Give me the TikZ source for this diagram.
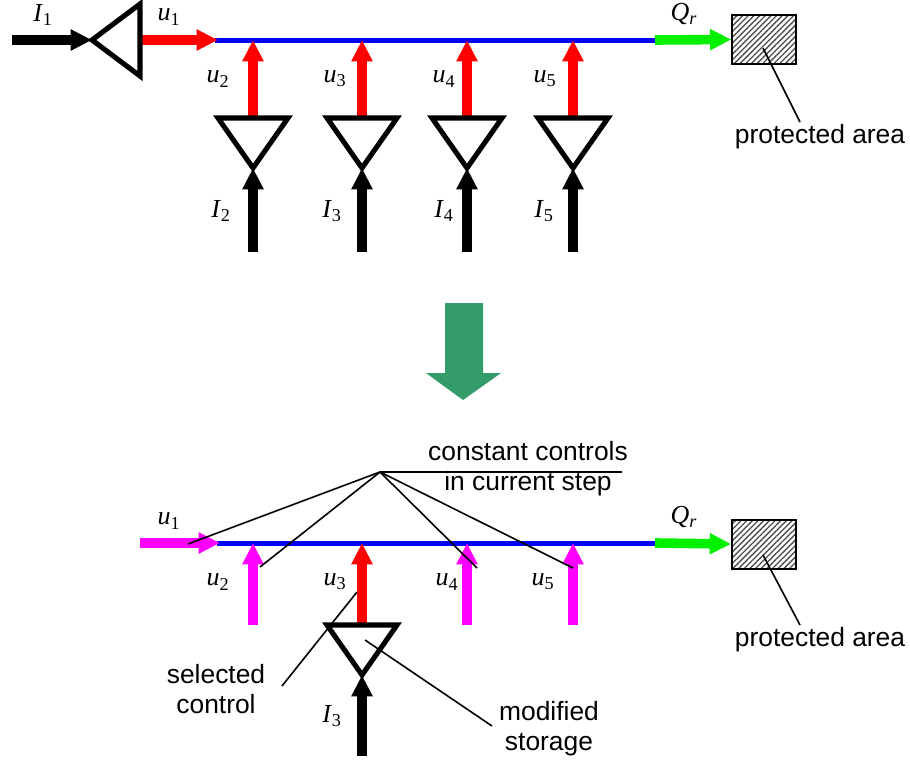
\documentclass[tikz,border=0pt]{standalone}
\usepackage{fontspec}
\setmainfont{Liberation Sans}
\newfontfamily\tnrfont{Liberation Serif}
\usetikzlibrary{arrows.meta,patterns.meta}

\definecolor{busblue}{RGB}{0,0,255}
\definecolor{ctrlred}{RGB}{255,0,0}
\definecolor{outgreen}{RGB}{0,240,0}
\definecolor{constmag}{RGB}{255,0,255}
\definecolor{stepgreen}{RGB}{52,155,106}

\begin{document}
\begin{tikzpicture}[x=0.75pt,y=0.75pt,yscale=-1,xscale=1,
  flow/.style={line width=7.2pt,-{Triangle[length=16pt,width=15pt]}},
  bus/.style={draw=busblue,line width=3.75pt},
  amp/.style={draw=black,line width=3.8pt,line join=miter,fill=white},
  area/.style={draw=black,line width=1.5pt,minimum width=48pt,minimum height=36.75pt,inner sep=0pt,
    pattern={Lines[angle=45,distance=3pt,line width=1pt]},pattern color=black!70},
  lead/.style={draw=black,line width=1.2pt},
  txt/.style={font=\fontsize{19.8}{22.5}\selectfont,align=center,inner sep=0pt},
  var/.style={font=\tnrfont\fontsize{19.5}{22}\selectfont,inner sep=0pt}]
\useasboundingbox (0,0) rectangle (910,764);

%% ---------------- before the step ----------------
% junctions on the line
\coordinate (i1) at (12,40);
\coordinate (a1) at (92,40);
\coordinate (o1) at (140,40);
\coordinate (j1) at (218,40);
\coordinate (j2) at (253,40);
\coordinate (j3) at (362,40);
\coordinate (j4) at (467,40);
\coordinate (j5) at (573,40);
\coordinate (q1) at (655,40);
% storages below the line
\coordinate (s2) at (253,118);
\coordinate (s3) at (362,118);
\coordinate (s4) at (467,118);
\coordinate (s5) at (573,118);
\coordinate (t2) at (253,168);
\coordinate (t3) at (362,168);
\coordinate (t4) at (467,168);
\coordinate (t5) at (573,168);
\coordinate (b2) at (253,252);
\coordinate (b3) at (362,252);
\coordinate (b4) at (467,252);
\coordinate (b5) at (573,252);

\draw[bus] (215,40) -- (q1);
\draw[flow,black] (i1) -- (a1);
\draw[flow,ctrlred] (o1) -- (j1);
\draw[flow,ctrlred] (s2) -- (j2);
\draw[flow,ctrlred] (s3) -- (j3);
\draw[flow,ctrlred] (s4) -- (j4);
\draw[flow,ctrlred] (s5) -- (j5);

% amplifiers
\draw[amp] (a1) -- ++(48,-36) -- ++(0,72) -- cycle;
\draw[amp] (s2) ++(-35,0) -- ++(70,0) -- ++(-35,50) -- cycle;
\draw[amp] (s3) ++(-35,0) -- ++(70,0) -- ++(-35,50) -- cycle;
\draw[amp] (s4) ++(-35,0) -- ++(70,0) -- ++(-35,50) -- cycle;
\draw[amp] (s5) ++(-35,0) -- ++(70,0) -- ++(-35,50) -- cycle;

\draw[flow,black] (b2) -- (t2);
\draw[flow,black] (b3) -- (t3);
\draw[flow,black] (b4) -- (t4);
\draw[flow,black] (b5) -- (t5);

% protected area
\node[area] (pr1) at (764,39.5) {};
\draw[flow,outgreen] (q1) -- (pr1.west);
\node[txt] (pt1) at (820,137) {protected area};
\coordinate (pe1) at (800,122);
\draw[lead] (763,48) -- (pe1);

% labels
\node[var] (lI1) at (43,15) {\textit{I}\textsubscript{1}};
\node[var] (lu1) at (169,17) {\textit{u}\textsubscript{1}};
\node[var] (lu2) at (218,79) {\textit{u}\textsubscript{2}};
\node[var] (lu3) at (335,79) {\textit{u}\textsubscript{3}};
\node[var] (lu4) at (444,79) {\textit{u}\textsubscript{4}};
\node[var] (lu5) at (545,79) {\textit{u}\textsubscript{5}};
\node[var] (lI2) at (221,211) {\textit{I}\textsubscript{2}};
\node[var] (lI3) at (332,211) {\textit{I}\textsubscript{3}};
\node[var] (lI4) at (444,211) {\textit{I}\textsubscript{4}};
\node[var] (lI5) at (544,211) {\textit{I}\textsubscript{5}};
\node[var] (lQ1) at (684,14) {\textit{Q}\textsubscript{\textit{r}}};

%% ---------------- step arrow ----------------
\fill[stepgreen] (445,303) -- (483,303) -- (483,373) -- (501,373) -- (463,400) -- (426,373) -- (445,373) -- cycle;

%% ---------------- after the step ----------------
\coordinate (m1) at (140,543);
\coordinate (k1) at (220,543);
\coordinate (k2) at (253,543);
\coordinate (k3) at (362,543);
\coordinate (k4) at (467,543);
\coordinate (k5) at (573,543);
\coordinate (q2) at (655,543);
\coordinate (c2) at (253,625);
\coordinate (c3) at (362,625);
\coordinate (c4) at (467,625);
\coordinate (c5) at (573,625);
\coordinate (t6) at (362,675);
\coordinate (b6) at (362,756);

\draw[bus] (217,543) -- (q2);
\draw[flow,constmag] (m1) -- (k1);
\draw[flow,constmag] (c2) -- (k2);
\draw[flow,ctrlred] (c3) -- (k3);
\draw[flow,constmag] (c4) -- (k4);
\draw[flow,constmag] (c5) -- (k5);
\draw[amp] (c3) ++(-35,0) -- ++(70,0) -- ++(-35,50) -- cycle;
\draw[flow,black] (b6) -- (t6);

\node[area] (pr2) at (764,544) {};
\draw[flow,outgreen] (q2) -- (pr2.west);
\node[txt] (pt2) at (820,640) {protected area};
\coordinate (pe2) at (800,625);
\draw[lead] (763,555) -- (pe2);

\node[var] (lu6) at (169,521) {\textit{u}\textsubscript{1}};
\node[var] (lu7) at (218,582) {\textit{u}\textsubscript{2}};
\node[var] (lu8) at (335,582) {\textit{u}\textsubscript{3}};
\node[var] (lu9) at (447,582) {\textit{u}\textsubscript{4}};
\node[var] (lu10) at (543,582) {\textit{u}\textsubscript{5}};
\node[var] (lI6) at (332,716) {\textit{I}\textsubscript{3}};
\node[var] (lQ2) at (684,517) {\textit{Q}\textsubscript{\textit{r}}};

% constant controls
\node[txt] (cc) at (528,469) {constant controls\\in current step};
\coordinate (ca) at (380,472);
\coordinate (cb) at (622,472);
\coordinate (e1) at (188,544);
\coordinate (e2) at (260,567);
\coordinate (e4) at (477,568);
\coordinate (e5) at (573,568);
\draw[lead] (cb) -- (ca) -- (e1);
\draw[lead] (ca) -- (e2);
\draw[lead] (ca) -- (e4);
\draw[lead] (ca) -- (e5);

% selected control and modified storage
\node[txt] (sel) at (216,689) {selected\\control};
\coordinate (sa) at (357,592);
\coordinate (sb) at (282,686);
\draw[lead] (sa) -- (sb);
\node[txt] (mod) at (549,729) {modified\\storage};
\coordinate (ma) at (365,640);
\coordinate (mb) at (492,726);
\draw[lead] (ma) -- (mb);

\end{tikzpicture}
\end{document}
